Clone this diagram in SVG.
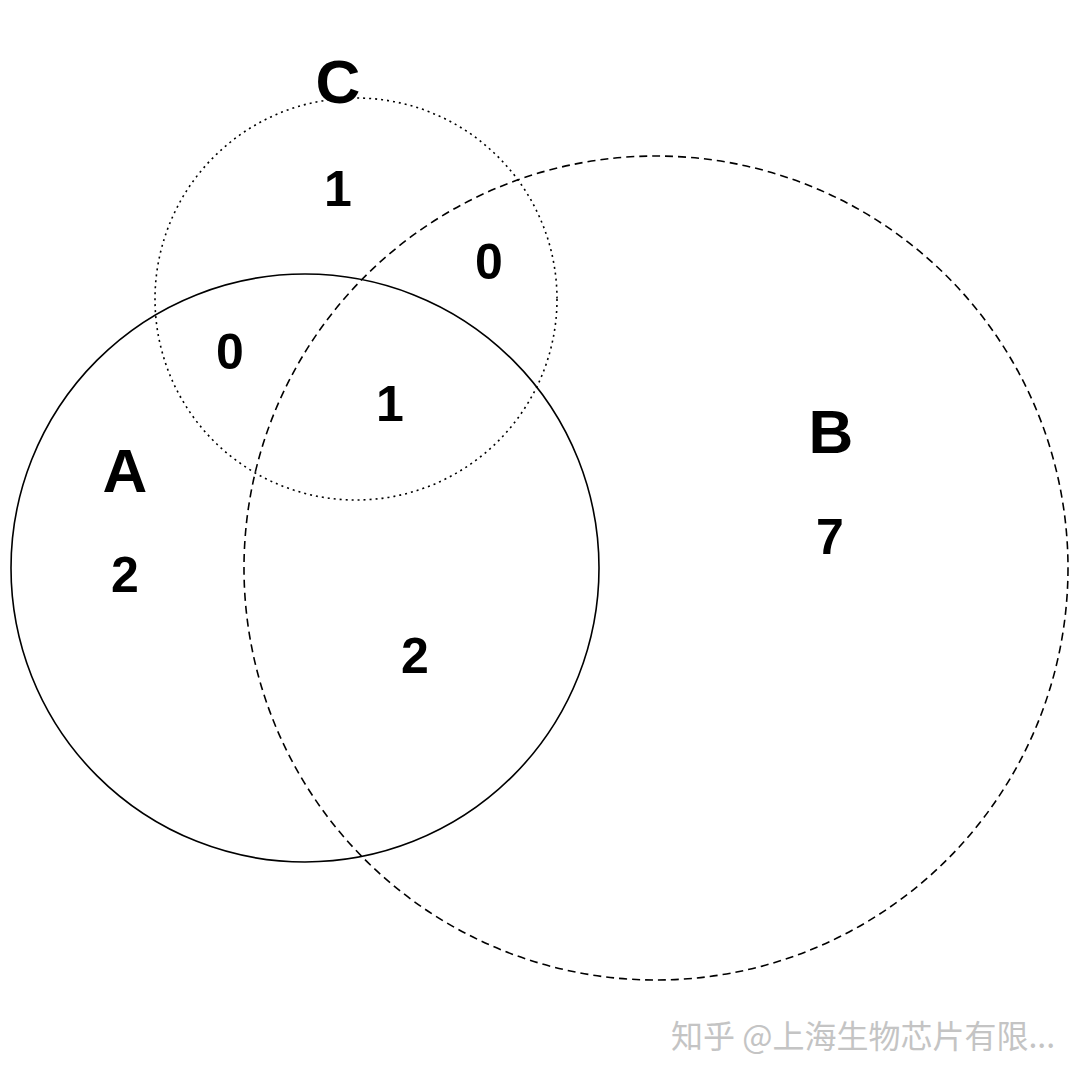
<svg xmlns="http://www.w3.org/2000/svg" width="1080" height="1080" viewBox="0 0 1080 1080">
<style>
.c{fill:none;stroke:#000;stroke-width:1.6}
.lab{font-family:"Liberation Sans",Arial,sans-serif;font-weight:bold;fill:#000;text-anchor:middle}
.big{font-size:62px}
.num{font-size:50px}
.wm{font-family:"Noto Sans CJK SC","Noto Sans",sans-serif;font-size:32px;fill:#c4c4c4}
</style>
<rect width="1080" height="1080" fill="#fff"/>
<g id="circles">
<g id="A"><circle class="c" cx="305" cy="568" r="294"/></g>
<g id="B"><circle class="c" cx="656" cy="568" r="412" stroke-dasharray="8 5"/></g>
<g id="C"><circle class="c" cx="356" cy="299" r="201" stroke-dasharray="2 4"/></g>
</g>
<g id="labels">
<text class="lab big" x="125" y="492">A</text>
<text class="lab big" x="831" y="453">B</text>
<text class="lab big" x="338" y="103">C</text>
<text class="lab num" x="338" y="206">1</text>
<text class="lab num" x="489" y="279">0</text>
<text class="lab num" x="230" y="369">0</text>
<text class="lab num" x="390" y="421">1</text>
<text class="lab num" x="125" y="592">2</text>
<text class="lab num" x="415" y="673">2</text>
<text class="lab num" x="830" y="554">7</text>
</g>
<text class="wm" x="671" y="1048">知乎 @上海生物芯片有限...</text>
</svg>
